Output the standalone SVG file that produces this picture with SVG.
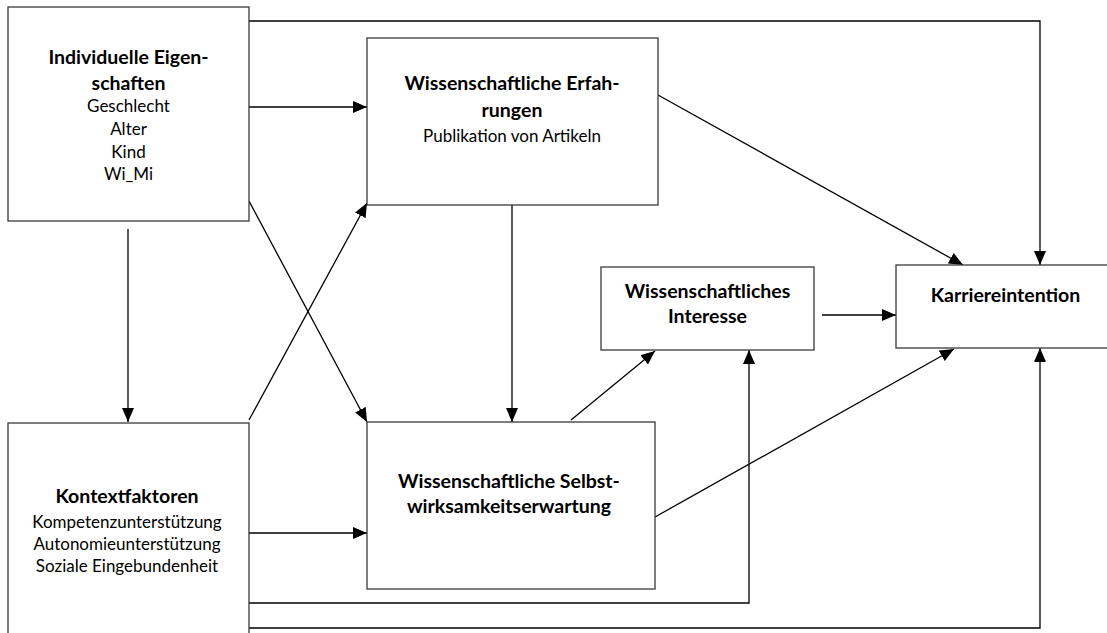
<svg xmlns="http://www.w3.org/2000/svg" width="1107" height="633" viewBox="0 0 1107 633">
  <defs>
    <marker id="arrow" viewBox="0 0 14 12" refX="14" refY="6" markerWidth="14" markerHeight="12" markerUnits="userSpaceOnUse" orient="auto">
      <path d="M0,0 L14,6 L0,12 Z" fill="#000"/>
    </marker>
    <style>
      .box { fill: #fff; stroke: #3a3a3a; stroke-width: 1.3; }
      .edge { fill: none; stroke: #000; stroke-width: 1.3; }
      .arr { marker-end: url(#arrow); }
      text { font-family: Lato, "Open Sans", "Liberation Sans", sans-serif; fill: #000; text-anchor: middle; }
      .t { font-size: 19.5px; font-weight: bold; }
      .s { font-size: 17px; }
    </style>
  </defs>
  <rect width="1107" height="633" fill="#fff"/>

  <g id="connectors">
    <!-- Individuelle Eigenschaften -> Karriereintention (over the top) -->
    <polyline class="edge arr" points="249,21 1040,21 1040,265"/>
    <!-- Individuelle Eigenschaften -> Erfahrungen -->
    <line class="edge arr" x1="249" y1="107" x2="367" y2="107"/>
    <!-- Individuelle Eigenschaften -> Kontextfaktoren -->
    <line class="edge arr" x1="128" y1="229" x2="128" y2="422"/>
    <!-- Individuelle Eigenschaften -> Selbstwirksamkeit -->
    <line class="edge arr" x1="249" y1="201" x2="367" y2="422"/>
    <!-- Kontextfaktoren -> Erfahrungen -->
    <line class="edge arr" x1="249" y1="420" x2="367" y2="203"/>
    <!-- Kontextfaktoren -> Selbstwirksamkeit -->
    <line class="edge arr" x1="249" y1="533" x2="367" y2="533"/>
    <!-- Kontextfaktoren -> Interesse -->
    <polyline class="edge arr" points="249,603 749,603 749,350"/>
    <!-- Kontextfaktoren -> Karriereintention -->
    <polyline class="edge arr" points="249,628 1040,628 1040,348"/>
    <!-- Erfahrungen -> Selbstwirksamkeit -->
    <line class="edge arr" x1="512" y1="205" x2="512" y2="422"/>
    <!-- Erfahrungen -> Karriereintention -->
    <line class="edge arr" x1="658" y1="95" x2="963" y2="265"/>
    <!-- Selbstwirksamkeit -> Interesse -->
    <line class="edge arr" x1="571" y1="420" x2="655" y2="351"/>
    <!-- Selbstwirksamkeit -> Karriereintention -->
    <line class="edge arr" x1="655" y1="517" x2="954" y2="349"/>
    <!-- Interesse -> Karriereintention -->
    <line class="edge arr" x1="822" y1="315" x2="896" y2="315"/>
  </g>

  <g id="individuelle-eigenschaften">
    <rect class="box" x="8" y="7" width="241" height="214"/>
    <text class="t" x="128.5" y="64">Individuelle Eigen-</text>
    <text class="t" x="128.5" y="90">schaften</text>
    <text class="s" x="128.5" y="112">Geschlecht</text>
    <text class="s" x="128.5" y="135">Alter</text>
    <text class="s" x="128.5" y="158">Kind</text>
    <text class="s" x="128.5" y="180">Wi_Mi</text>
  </g>

  <g id="wissenschaftliche-erfahrungen">
    <rect class="box" x="367" y="38" width="291" height="167"/>
    <text class="t" x="512" y="90">Wissenschaftliche Erfah-</text>
    <text class="t" x="512" y="117">rungen</text>
    <text class="s" x="512" y="142">Publikation von Artikeln</text>
  </g>

  <g id="wissenschaftliches-interesse">
    <rect class="box" x="601" y="267" width="213" height="83"/>
    <text class="t" x="707.5" y="298">Wissenschaftliches</text>
    <text class="t" x="707.5" y="323">Interesse</text>
  </g>

  <g id="karriereintention">
    <rect class="box" x="896" y="265" width="230" height="83"/>
    <text class="t" x="1005.5" y="302">Karriereintention</text>
  </g>

  <g id="selbstwirksamkeitserwartung">
    <rect class="box" x="367" y="422" width="288" height="167"/>
    <text class="t" x="509" y="488">Wissenschaftliche Selbst-</text>
    <text class="t" x="509" y="513">wirksamkeitserwartung</text>
  </g>

  <g id="kontextfaktoren">
    <rect class="box" x="8" y="423" width="241" height="230"/>
    <text class="t" x="127" y="503">Kontextfaktoren</text>
    <text class="s" x="127" y="528">Kompetenzunterstützung</text>
    <text class="s" x="127" y="550">Autonomieunterstützung</text>
    <text class="s" x="127" y="572">Soziale Eingebundenheit</text>
  </g>
</svg>
